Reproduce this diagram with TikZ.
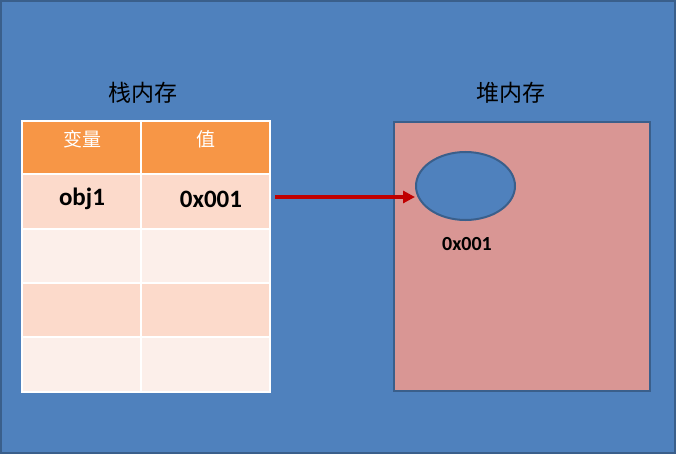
\documentclass[tikz,border=0pt]{standalone}
\usepackage{fontspec}
\setmainfont{Carlito}
\newfontfamily\cjk{Noto Sans CJK SC}
\usetikzlibrary{arrows.meta,shapes.geometric}
\definecolor{bgblue}{HTML}{4F81BD}
\definecolor{edgeblue}{HTML}{3A5F8B}
\definecolor{hdr}{HTML}{F79646}
\definecolor{rowa}{HTML}{FCDACB}
\definecolor{rowb}{HTML}{FCEFEA}
\definecolor{heap}{HTML}{D99694}
\definecolor{arrred}{HTML}{C00000}
\tikzset{
  cell/.style={draw=white, line width=1.5pt, minimum width=#1, minimum height=54pt, inner sep=0pt, outer sep=0pt},
  hdrtxt/.style={text=white, font=\cjk\fontsize{19}{22}\selectfont, inner sep=0pt},
  celltxt/.style={text=black, font=\bfseries\fontsize{25}{28}\selectfont, inner sep=0pt},
  title/.style={text=black, font=\cjk\fontsize{23}{26}\selectfont, inner sep=0pt},
  arr/.style={draw=arrred, line width=3.5pt, -{Triangle[length=12pt,width=12pt]}}
}
\begin{document}
\begin{tikzpicture}[x=1pt,y=-1pt]
\useasboundingbox (0,0) rectangle (676,454);
\fill[bgblue] (0,0) rectangle (676,454);
\draw[edgeblue, line width=2pt] (1,1) rectangle (675,453);
% titles
\node[title] (t1) at (143,93) {栈内存};
\node[title] (t2) at (510.5,93) {堆内存};
% table
\node[cell=119pt, fill=hdr, minimum height=53pt] (h1) at (81.5,147.5) {};
\node[cell=129pt, fill=hdr, minimum height=53pt] (h2) at (205.5,147.5) {};
\node[cell=119pt, fill=rowa, minimum height=55pt] (a1) at (81.5,201.5) {};
\node[cell=129pt, fill=rowa, minimum height=55pt] (a2) at (205.5,201.5) {};
\node[cell=119pt, fill=rowb] (b1) at (81.5,256) {};
\node[cell=129pt, fill=rowb] (b2) at (205.5,256) {};
\node[cell=119pt, fill=rowa] (c1) at (81.5,310) {};
\node[cell=129pt, fill=rowa] (c2) at (205.5,310) {};
\node[cell=119pt, fill=rowb, minimum height=55pt] (d1) at (81.5,364.5) {};
\node[cell=129pt, fill=rowb, minimum height=55pt] (d2) at (205.5,364.5) {};
\node[hdrtxt] (h1t) at (82,139) {变量};
\node[hdrtxt] (h2t) at (205.5,139) {值};
\node[celltxt] (a1t) at (82,199) {obj1};
\node[celltxt] (a2t) at (211,199) {0x001};
% heap
\node[draw=edgeblue, fill=heap, line width=2.5pt, minimum width=256pt, minimum height=269pt, inner sep=0pt] (hp) at (522,256.5) {};
\node[ellipse, draw=edgeblue, fill=bgblue, line width=2pt, minimum width=99pt, minimum height=68pt, inner sep=0pt] (obj) at (465.5,186) {};
\node[font=\bfseries\fontsize{20}{24}\selectfont, inner sep=0pt] (addr) at (467,244) {0x001};
% arrow
\coordinate (as) at (275,197);
\draw[arr] (as) -- (as -| obj.west);
\end{tikzpicture}
\end{document}
